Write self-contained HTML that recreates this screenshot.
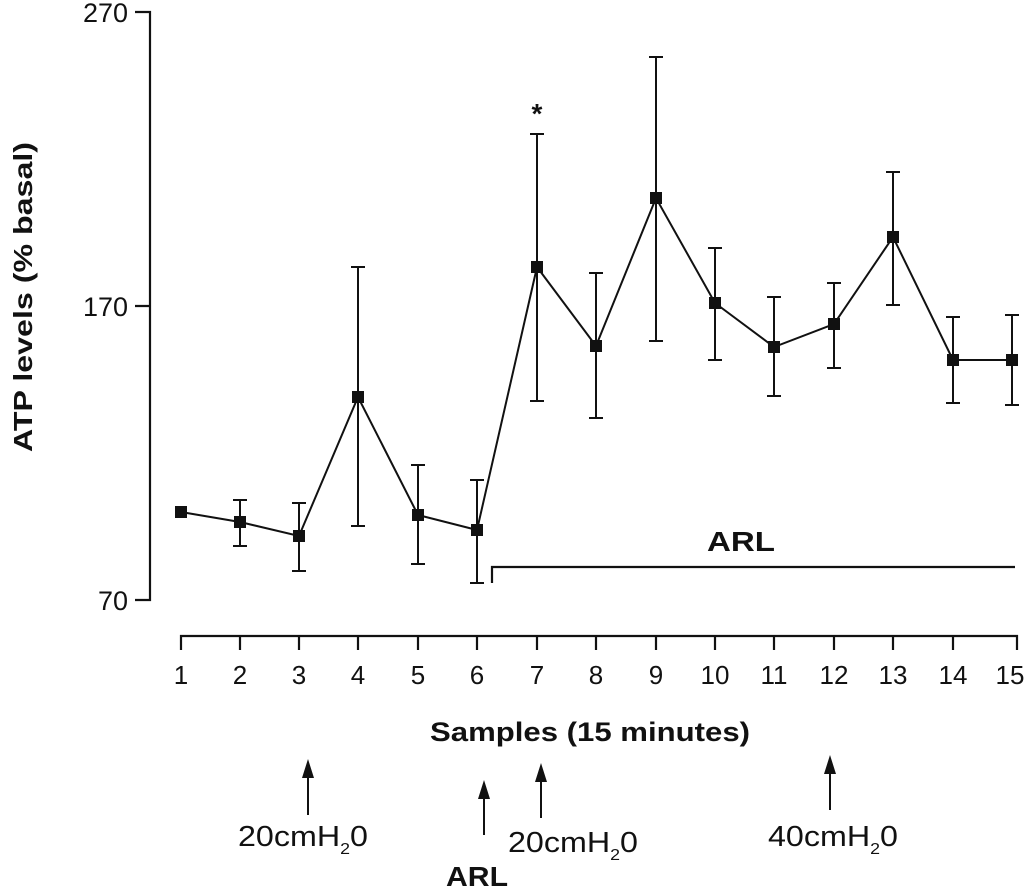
<!DOCTYPE html>
<html><head><meta charset="utf-8"><style>
html,body{margin:0;padding:0;background:#fff;}
svg{display:block;font-family:"Liberation Sans",Arial,sans-serif;}
</style></head><body>
<svg width="1024" height="888" viewBox="0 0 1024 888" xmlns="http://www.w3.org/2000/svg">
<g stroke="#111" stroke-width="2.2" fill="none">
<path d="M135,12 H150 V600 H135 M135,306 H150"/>
<path d="M181,650 V636 H1017 V650"/>
<path d="M240,636V650M299,636V650M358,636V650M418,636V650M477,636V650M537,636V650M596,636V650M656,636V650M715,636V650M774,636V650M834,636V650M893,636V650M953,636V650"/>
<path d="M492,583 V567 H1015"/>
</g>
<g font-size="27" fill="#111" text-anchor="end">
<text x="128" y="22">270</text><text x="128" y="316">170</text><text x="128" y="610">70</text>
</g>
<g font-size="26" fill="#111" text-anchor="middle">
<text x="181" y="684">1</text><text x="240" y="684">2</text><text x="299" y="684">3</text><text x="358" y="684">4</text><text x="418" y="684">5</text><text x="477" y="684">6</text><text x="537" y="684">7</text><text x="596" y="684">8</text><text x="656" y="684">9</text><text x="715" y="684">10</text><text x="774" y="684">11</text><text x="834" y="684">12</text><text x="893" y="684">13</text><text x="953" y="684">14</text><text x="1010" y="684">15</text>
</g>
<text x="430" y="741" font-size="27" font-weight="bold" fill="#111" textLength="320" lengthAdjust="spacingAndGlyphs">Samples (15 minutes)</text>
<text x="0" y="0" font-size="26" font-weight="bold" fill="#111" textLength="310" lengthAdjust="spacingAndGlyphs" transform="translate(32 452) rotate(-90)">ATP levels (% basal)</text>
<text x="707" y="551" font-size="28" font-weight="bold" fill="#111" textLength="68" lengthAdjust="spacingAndGlyphs">ARL</text>
<text x="537" y="123" font-size="28" font-weight="bold" text-anchor="middle" fill="#111">*</text>
<g stroke="#111" stroke-width="2" fill="none">
<path d="M240,500V546M233,500H247M233,546H247"/>
<path d="M299,503V571M292,503H306M292,571H306"/>
<path d="M358,267V526M351,267H365M351,526H365"/>
<path d="M418,465V564M411,465H425M411,564H425"/>
<path d="M477,480V583M470,480H484M470,583H484"/>
<path d="M537,134V401M530,134H544M530,401H544"/>
<path d="M596,273V418M589,273H603M589,418H603"/>
<path d="M656,57V341M649,57H663M649,341H663"/>
<path d="M715,248V360M708,248H722M708,360H722"/>
<path d="M774,297V396M767,297H781M767,396H781"/>
<path d="M834,283V368M827,283H841M827,368H841"/>
<path d="M893,172V305M886,172H900M886,305H900"/>
<path d="M953,317V403M946,317H960M946,403H960"/>
<path d="M1012,315V405M1005,315H1019M1005,405H1019"/>
<polyline points="181,512 240,522 299,536 358,397 418,515 477,530 537,267 596,346 656,198 715,303 774,347 834,324 893,237 953,360 1012,360"/>
</g>
<g fill="#111">
<rect x="175" y="506" width="12" height="12"/><rect x="234" y="516" width="12" height="12"/><rect x="293" y="530" width="12" height="12"/><rect x="352" y="391" width="12" height="12"/><rect x="412" y="509" width="12" height="12"/><rect x="471" y="524" width="12" height="12"/><rect x="531" y="261" width="12" height="12"/><rect x="590" y="340" width="12" height="12"/><rect x="650" y="192" width="12" height="12"/><rect x="709" y="297" width="12" height="12"/><rect x="768" y="341" width="12" height="12"/><rect x="828" y="318" width="12" height="12"/><rect x="887" y="231" width="12" height="12"/><rect x="947" y="354" width="12" height="12"/><rect x="1006" y="354" width="12" height="12"/>
</g>
<g stroke="#111" stroke-width="2"><path d="M308,815V772M484,835V790M541,818V775M830,810V767"/></g>
<g fill="#111"><path d="M308,759l-6,19h12z M484,780l-6,19h12z M541,763l-6,19h12z M830,755l-6,19h12z"/></g>
<g font-size="29" fill="#111">
<text x="238" y="846" textLength="130" lengthAdjust="spacingAndGlyphs">20cmH<tspan font-size="16" dy="8">2</tspan><tspan dy="-8">0</tspan></text>
<text x="508" y="852" textLength="130" lengthAdjust="spacingAndGlyphs">20cmH<tspan font-size="16" dy="8">2</tspan><tspan dy="-8">0</tspan></text>
<text x="768" y="846" textLength="130" lengthAdjust="spacingAndGlyphs">40cmH<tspan font-size="16" dy="8">2</tspan><tspan dy="-8">0</tspan></text>
</g>
<text x="446" y="886" font-size="28" font-weight="bold" fill="#111" textLength="62" lengthAdjust="spacingAndGlyphs">ARL</text>
</svg>
</body></html>
